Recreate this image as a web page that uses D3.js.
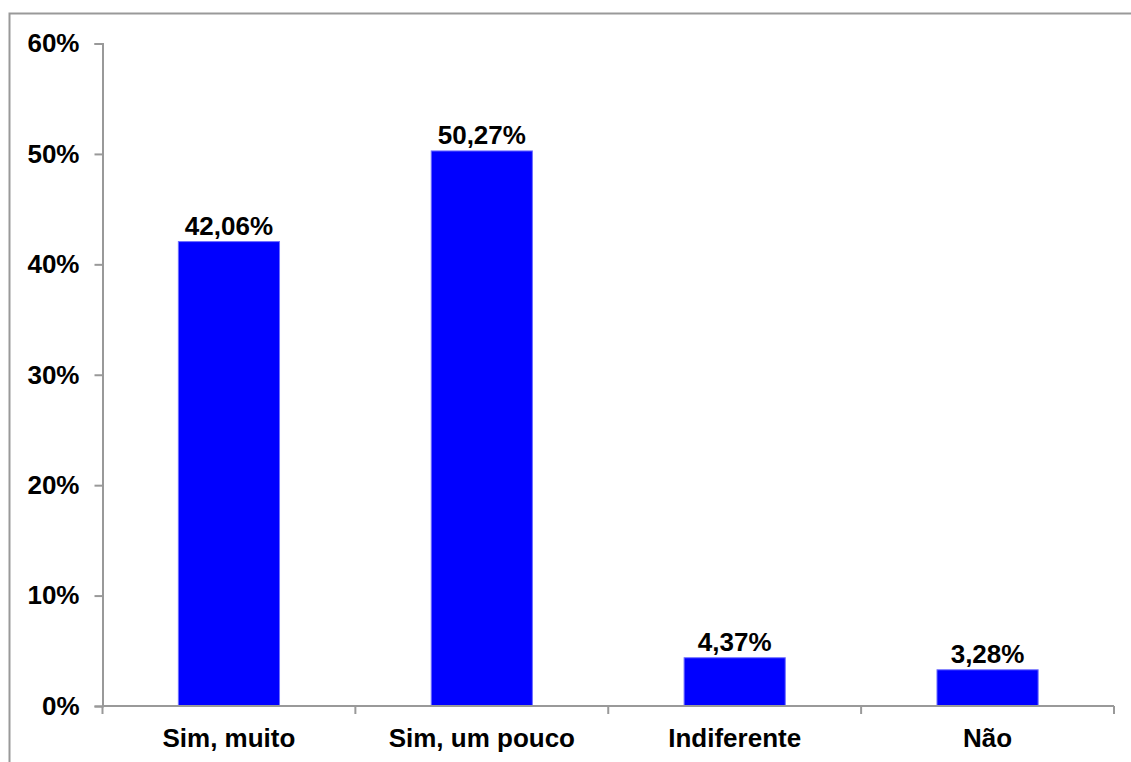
<!DOCTYPE html>
<html>
<head>
<meta charset="utf-8">
<script src="https://cdn.jsdelivr.net/npm/d3@7"></script>
<style>
  html, body { margin: 0; padding: 0; background: #fff; }
  svg { display: block; }
  text { font-family: Arial, "Liberation Sans", sans-serif; font-weight: bold; fill: #000; }
</style>
</head>
<body>
<svg id="chart" width="1131" height="762"></svg>
<script>
// Survey answers and their shares (percent)
const categories = ["Sim, muito", "Sim, um pouco", "Indiferente", "Não"];
const values = [42.06, 50.27, 4.37, 3.28];
const yTicks = [0, 10, 20, 30, 40, 50, 60];

const W = 1131, H = 762;
const margin = { left: 102.5, right: 17, top: 43.5, bottom: 56 };
const svg = d3.select("#chart");

// Outer frame of the chart area (runs off the right and bottom edges)
svg.append("rect")
  .attr("x", 9.5).attr("y", 13.5)
  .attr("width", W + 20).attr("height", H + 20)
  .attr("fill", "none").attr("stroke", "#999").attr("stroke-width", 2);

const x = d3.scaleBand()
  .domain(categories)
  .range([margin.left, W - margin.right])
  .paddingInner(0.6).paddingOuter(0.3);

const y = d3.scaleLinear()
  .domain([0, 60])
  .range([H - margin.bottom, margin.top]);

const fmt = v => v.toFixed(2).replace(".", ",") + "%";

// Bars
svg.append("g").selectAll("rect")
  .data(values)
  .join("rect")
  .attr("x", (d, i) => x(categories[i]))
  .attr("y", d => y(d))
  .attr("width", x.bandwidth())
  .attr("height", d => y(0) - y(d))
  .attr("fill", "#0000ff")
  .attr("stroke", "#6f6fff")
  .attr("stroke-width", 1);

// Value labels above bars
svg.append("g").selectAll("text")
  .data(values)
  .join("text")
  .attr("x", (d, i) => x(categories[i]) + x.bandwidth() / 2)
  .attr("y", d => y(d) - 7)
  .attr("text-anchor", "middle")
  .attr("font-size", 26)
  .text(d => fmt(d));

// Y axis
const yAxis = svg.append("g")
  .attr("transform", `translate(${margin.left},0)`)
  .call(d3.axisLeft(y).tickValues(yTicks).tickSize(8).tickPadding(15)
    .tickFormat(d => d + "%"));
yAxis.select(".domain").attr("stroke", "#999").attr("stroke-width", 2);
yAxis.selectAll(".tick line").attr("stroke", "#999").attr("stroke-width", 2);
yAxis.selectAll(".tick text")
  .attr("font-size", 26).attr("font-family", "Arial, 'Liberation Sans', sans-serif")
  .attr("font-weight", "bold").attr("fill", "#000");

// X axis with ticks at band boundaries
const xAxisG = svg.append("g")
  .attr("transform", `translate(0,${y(0)})`);
xAxisG.append("line")
  .attr("x1", margin.left).attr("x2", W - margin.right)
  .attr("stroke", "#999").attr("stroke-width", 2);
const step = x.step();
const bounds = d3.range(categories.length + 1).map(i => margin.left + i * (W - margin.right - margin.left) / categories.length);
xAxisG.selectAll("line.tk")
  .data(bounds)
  .join("line")
  .attr("class", "tk")
  .attr("x1", d => d).attr("x2", d => d)
  .attr("y1", 0).attr("y2", 8)
  .attr("stroke", "#999").attr("stroke-width", 2);
xAxisG.selectAll("text")
  .data(categories)
  .join("text")
  .attr("x", d => x(d) + x.bandwidth() / 2)
  .attr("y", 41)
  .attr("text-anchor", "middle")
  .attr("font-size", 26)
  .text(d => d);
</script>
</body>
</html>
